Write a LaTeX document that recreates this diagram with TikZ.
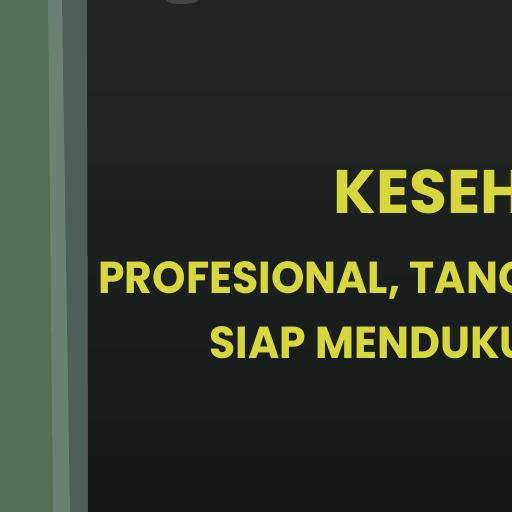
\documentclass[tikz,border=0pt]{standalone}
\usepackage{fontspec}
\usepackage{tikz}
\usetikzlibrary{positioning}
\newfontfamily\bannerfont{Poppins}
\newfontfamily\narrowfont{Poppins}[FakeStretch=0.95]

\definecolor{wall}{RGB}{82,112,84}
\definecolor{frameA}{RGB}{104,130,116}
\definecolor{frameB}{RGB}{78,94,88}
\definecolor{boardtop}{RGB}{34,39,38}
\definecolor{boardbot}{RGB}{20,25,23}
\definecolor{letter}{RGB}{216,214,62}

\begin{document}
\begin{tikzpicture}[
		x=0.02cm, y=-0.02cm
		,txt/.style={inner sep=0pt, anchor=base west, text=letter}
		,big/.style={txt, font=\bannerfont\bfseries\fontsize{35}{35}\selectfont}
		,small/.style={txt, font=\narrowfont\bfseries\fontsize{25.5}{25.5}\selectfont}
	]
		\useasboundingbox (0,0) rectangle (512,512);
		\clip (0,0) rectangle (512,512);

		% wall, frame and board
		\fill[wall] (0,0) rectangle (512,512);
		\fill[frameA] (48,0) -- (87,0) -- (88,512) -- (53,512) -- cycle;
		\fill[frameB] (62,0) -- (87,0) -- (88,512) -- (70,512) -- cycle;
		\shade[top color=boardtop, bottom color=boardbot] (87,0) -- (512,0) -- (512,512) -- (88,512) -- cycle;
		\fill[gray!35!boardtop] (182,0) ellipse (16 and 4);

		% lettering
		\coordinate (K) at (333,213);
		\coordinate (P) at (98,293);
		\coordinate (S) at (209,358);
		\node[big] (title) at (K) {KESEH};
		\node[small] (lineA) at (P) {PROFESIONAL, TANG};
		\node[small] (lineB) at (S) {SIAP MENDUKU};
	\end{tikzpicture}
\end{document}
